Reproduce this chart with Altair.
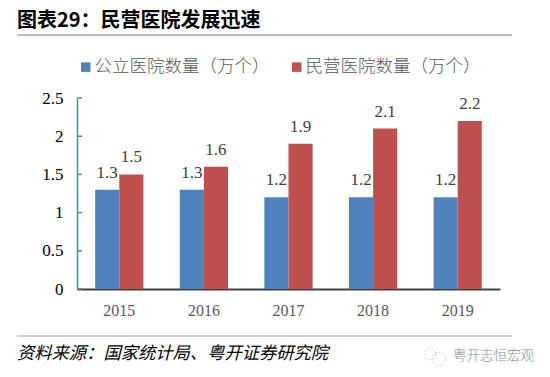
import altair as alt
import pandas as pd

years = ["2015", "2016", "2017", "2018", "2019"]
public = [1.3, 1.3, 1.2, 1.2, 1.2]
private = [1.5, 1.6, 1.9, 2.1, 2.2]
s1 = "公立医院数量（万个）"
s2 = "民营医院数量（万个）"
y_ticks = [0, 0.5, 1, 1.5, 2, 2.5]
title_text = "图表29：民营医院发展迅速"
source_text = "资料来源：国家统计局、粤开证券研究院"
mark_text = "粤开志恒宏观"

df = pd.DataFrame(
    {"year": years * 2, "series": [s1] * 5 + [s2] * 5, "value": public + private}
)

W, H = 423, 191
SERIF = "Liberation Serif"
CJK = "Noto Sans CJK SC"

x = alt.X(
    "year:N",
    title=None,
    scale=alt.Scale(paddingInner=0.43, paddingOuter=0.215),
    axis=alt.Axis(
        labelAngle=0, labelFont=SERIF, labelFontSize=16, labelColor="#595959",
        labelPadding=13, ticks=False, domainColor="#404040", domainWidth=2,
    ),
)
y_scale = alt.Scale(domain=[0, 2.5], nice=False)
y_axis = alt.Axis(
    values=y_ticks, labelExpr="datum.value", grid=False, ticks=False,
    labelFont=SERIF, labelFontSize=17, labelColor="#000000", labelPadding=14,
    domainColor="#4F81BD", domainWidth=1.5,
)
y = alt.Y("value:Q", title=None, scale=y_scale, axis=y_axis)
offset = alt.XOffset("series:N", sort=[s1, s2], scale=alt.Scale(paddingInner=0, paddingOuter=0))
color = alt.Color(
    "series:N",
    sort=[s1, s2],
    scale=alt.Scale(domain=[s1, s2], range=["#4F81BD", "#C0504D"]),
    legend=alt.Legend(
        title=None, orient="none", legendX=0, legendY=-40, direction="horizontal",
        columns=2, columnPadding=18, symbolType="square", symbolSize=90,
        symbolStrokeWidth=0, labelFont=CJK, labelFontSize=17.5, labelFontWeight=300,
        labelColor="#595959", labelLimit=300, labelOffset=0, symbolOpacity=1,
    ),
)

bars = alt.Chart(df).mark_bar().encode(x=x, xOffset=offset, y=y, color=color)
labels = (
    alt.Chart(df)
    .mark_text(baseline="bottom", dy=-8, font=SERIF, fontSize=17, color="#404040")
    .encode(x=x, xOffset=offset, y=y, text=alt.Text("value:Q", format=".1f"))
)

ticks = (
    alt.Chart(pd.DataFrame({"value": y_ticks}))
    .mark_rule(color="#4F81BD", strokeWidth=1.5)
    .encode(y=y, x=alt.value(0), x2=alt.value(5))
)


def note(text, px, py, **kw):
    return alt.Chart(pd.DataFrame({"t": [text]})).mark_text(align="left", baseline="middle", **kw).encode(
        text="t:N", x=alt.value(px), y=alt.value(py)
    )


def hline(py, color):
    return alt.Chart(pd.DataFrame({"a": [0]})).mark_rule(color=color, strokeWidth=1.5).encode(
        x=alt.value(-60), x2=alt.value(435), y=alt.value(py)
    )


title = note(title_text, -60, -77, font=CJK, fontSize=20, fontWeight="bold", color="#000000")
source = note(source_text, -60, 256, font=CJK, fontSize=17.3, fontStyle="italic", color="#000000")
mark = note(mark_text, 376, 258, font=CJK, fontSize=13.5, fontWeight=300, color="#8C8C8C")
icon1 = alt.Chart(pd.DataFrame({"a": [0]})).mark_point(
    shape="circle", size=130, color="#BFBFBF", strokeDash=[2, 2], strokeWidth=1
).encode(x=alt.value(353), y=alt.value(256))
icon2 = alt.Chart(pd.DataFrame({"a": [0]})).mark_point(
    shape="circle", size=190, color="#BFBFBF", strokeDash=[2, 2], strokeWidth=1
).encode(x=alt.value(362), y=alt.value(261))

chart = (
    alt.layer(bars, labels, ticks, hline(-63, "#A6A6A6"), hline(238, "#BFBFBF"), title, source, mark, icon1, icon2)
    .properties(
        width=W, height=H,
        autosize=alt.AutoSizeParams(type="none"),
        padding={"left": 69, "top": 90, "right": 34, "bottom": 80},
    )
    .configure_view(stroke=None)
)

chart.save("out.html", embed_options={"renderer": "svg", "actions": False})
